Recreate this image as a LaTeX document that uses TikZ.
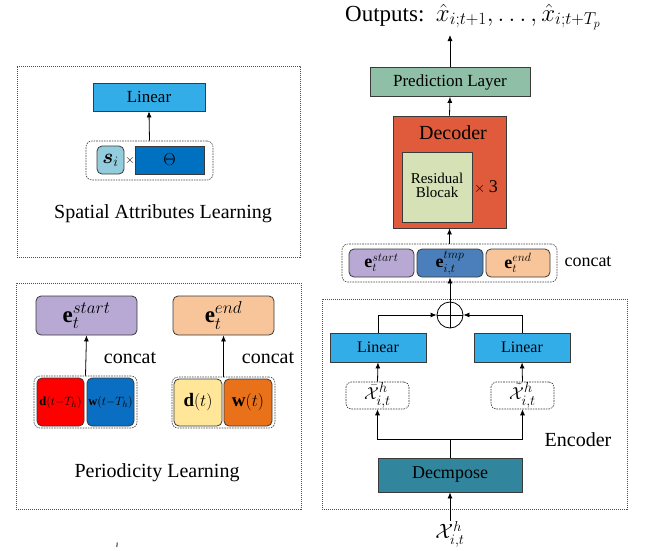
\documentclass[tikz,border=0pt]{standalone}
\usepackage{amsmath,amssymb,bm}
\usepackage{fontspec}
\setmainfont{Liberation Serif}
\newfontfamily\tnr{Liberation Serif}
\usetikzlibrary{arrows.meta}

\definecolor{linblue}{HTML}{33ADE8}
\definecolor{slight}{HTML}{93CDDD}
\definecolor{thetablue}{HTML}{0070C0}
\definecolor{startpurple}{HTML}{B7A9D3}
\definecolor{endpeach}{HTML}{F8C59B}
\definecolor{dred}{HTML}{FF0000}
\definecolor{wblue}{HTML}{0A6FC2}
\definecolor{dyellow}{HTML}{FFE699}
\definecolor{worange}{HTML}{E8711A}
\definecolor{predgreen}{HTML}{8FBFA6}
\definecolor{decred}{HTML}{E05B3C}
\definecolor{resgreen}{HTML}{D6E2B6}
\definecolor{tmpblue}{HTML}{4A7FBB}
\definecolor{decteal}{HTML}{31859C}
\definecolor{edge}{HTML}{3A3A3A}

\newcommand{\fs}[1]{\tnr\fontsize{#1}{#1}\selectfont}

\tikzset{
  every node/.style={font=\tnr},
  box/.style={draw=edge, line width=0.8pt, inner sep=0pt, align=center},
  rbox/.style={box, rounded corners=5pt},
  grp/.style={draw=black!75, line width=0.6pt, dash pattern=on 1.6pt off 1pt,
              rounded corners=6pt, inner sep=0pt},
  panel/.style={draw=black!70, line width=0.7pt, dash pattern=on 1.3pt off 0.7pt,
                inner sep=0pt},
  xbox/.style={draw=black!80, line width=0.6pt, dash pattern=on 1.6pt off 1pt,
               rounded corners=5pt, inner sep=0pt},
  arr/.style={draw=black, line width=0.8pt, -{Latex[length=6pt,width=5pt]}},
  ln/.style={draw=black, line width=0.8pt},
  lbl/.style={inner sep=0pt}
}

\begin{document}
\begin{tikzpicture}[x=1pt,y=-1pt]
\useasboundingbox (0,0) rectangle (657,550);

%% ---------- Spatial attributes learning ----------
\node[panel, minimum width=283pt, minimum height=191pt] (sal) at (158.5,161.5) {};
\node[box, fill=linblue, minimum width=112pt, minimum height=28pt] (lin1) at (149,97) {\fs{17}Linear};
\node[grp, minimum width=127pt, minimum height=39pt] (g1) at (149.5,160.5) {};
\node[rbox, fill=slight, minimum width=27pt, minimum height=28pt] (si) at (110.5,160) {\fs{21}$\boldsymbol{s}_i$};
\node[lbl] (tm) at (130,160) {\fs{12}$\times$};
\node[box, fill=thetablue, minimum width=69pt, minimum height=28pt] (th) at (169.5,160) {\fs{18}$\Theta$};
\node[lbl] (salt) at (163,214) {\fs{20}Spatial Attributes Learning};
\draw[arr] (g1.north) -- (lin1.south);

%% ---------- Periodicity learning ----------
\node[panel, minimum width=285pt, minimum height=226pt] (pl) at (158.5,396) {};
\node[rbox, fill=startpurple, minimum width=101pt, minimum height=39pt] (es1) at (86.5,315.5) {\fs{23}$\mathbf{e}_t^{start}$};
\node[rbox, fill=endpeach, minimum width=101pt, minimum height=39pt] (ee1) at (223.5,315.5) {\fs{23}$\mathbf{e}_t^{end}$};
\node[grp, minimum width=103pt, minimum height=52pt] (ga) at (85.5,402) {};
\node[rbox, fill=dred, minimum width=47pt, minimum height=48pt] (dth) at (60.5,402) {\fs{12.5}$\mathbf{d}(t{-}T_h)$};
\node[rbox, fill=wblue, minimum width=47pt, minimum height=48pt] (wth) at (110.5,402) {\fs{12.5}$\mathbf{w}(t{-}T_h)$};
\node[grp, minimum width=103pt, minimum height=51pt] (gb) at (223.5,402.5) {};
\node[rbox, fill=dyellow, minimum width=48pt, minimum height=47pt] (dt) at (198,402.5) {\fs{19}$\mathbf{d}(t)$};
\node[rbox, fill=worange, minimum width=48pt, minimum height=47pt] (wt) at (248,402.5) {\fs{19}$\mathbf{w}(t)$};
\node[lbl] (cc1) at (130,358) {\fs{20}concat};
\node[lbl] (cc2) at (268,358) {\fs{20}concat};
\node[lbl] (plt) at (157,473) {\fs{20}Periodicity Learning};
\draw[arr] (ga.north) -- (es1.south);
\draw[arr] (gb.north) -- (ee1.south);

%% ---------- Decoder side ----------
\node[lbl, anchor=base west] (out) at (345,21) {\fs{23}Outputs:\ \ \fs{25}$\hat{x}_{i;t+1},\ldots,\hat{x}_{i;t+T_p}$};
\coordinate (outin) at (450,35);
\node[box, fill=predgreen, minimum width=160pt, minimum height=29pt] (pred) at (450,82) {\fs{17}Prediction Layer};
\node[box, fill=decred, minimum width=113pt, minimum height=112pt] (dec) at (449.5,172) {};
\node[lbl] (dect) at (453,133) {\fs{20}Decoder};
\node[box, fill=resgreen, minimum width=70pt, minimum height=70pt] (res) at (437,187) {\fs{15}\begin{tabular}{@{}c@{}}Residual\\[-1pt]Blocak\end{tabular}};
\node[lbl] (rep) at (486,187) {\fs{14}$\times$ \fs{18}3};
\draw[arr] (pred.north) -- (outin);
\draw[arr] (dec.north) -- (pred.south);

\node[grp, minimum width=215pt, minimum height=38pt] (cg) at (449.5,263) {};
\node[rbox, fill=startpurple, minimum width=65pt, minimum height=28pt] (es2) at (381.5,263) {\fs{18}$\mathbf{e}_t^{start}$};
\node[rbox, fill=tmpblue, minimum width=66pt, minimum height=28pt] (etmp) at (450,263) {\fs{18}$\mathbf{e}_{i,t}^{tmp}$};
\node[rbox, fill=endpeach, minimum width=64pt, minimum height=28pt] (ee2) at (518,263) {\fs{18}$\mathbf{e}_t^{end}$};
\node[lbl] (cc3) at (588,262) {\fs{18}concat};
\draw[arr] (cg.north) -- (dec.south);

%% ---------- Encoder ----------
\node[panel, minimum width=305pt, minimum height=210pt] (enc) at (474.5,404) {};
\node[lbl] (enct) at (578,440) {\fs{20}Encoder};
\node[circle, draw=black, line width=0.8pt, minimum size=26pt, inner sep=0pt] (plus) at (450,315) {};
\draw[ln] (plus.north) -- (plus.south) (plus.west) -- (plus.east);
\node[box, fill=linblue, minimum width=96pt, minimum height=29pt] (linl) at (378,347.5) {\fs{16}Linear};
\node[box, fill=linblue, minimum width=96pt, minimum height=29pt] (linr) at (522,347.5) {\fs{16}Linear};
\node[xbox, minimum width=63pt, minimum height=27pt] (xbar) at (377.5,395.5) {\fs{19}$\bar{\mathcal{X}}_{i,t}^{h}$};
\node[xbox, minimum width=63pt, minimum height=27pt] (xtil) at (522.5,395.5) {\fs{19}$\tilde{\mathcal{X}}_{i,t}^{h}$};
\node[box, fill=decteal, minimum width=144pt, minimum height=34pt] (dcp) at (450,475) {\fs{18}Decmpose};
\node[lbl] (xin) at (450,534) {\fs{21}$\mathcal{X}_{i,t}^{h}$};
\coordinate (split) at (450,439);

\draw[arr] (xin.north) -- (dcp.south);
\draw[ln] (dcp.north) -- (split);
\draw[arr] (split) -| (xbar.south);
\draw[arr] (split) -| (xtil.south);
\draw[arr] (xbar.north) -- (linl.south);
\draw[arr] (xtil.north) -- (linr.south);
\draw[arr] (linl.north) |- (plus.west);
\draw[arr] (linr.north) |- (plus.east);
\draw[arr] (plus.north) -- (etmp.south);

%% small tick below the left panels
\draw[line width=1pt, black!80] (117.3,542.5) -- (116.8,547);
\end{tikzpicture}
\end{document}
